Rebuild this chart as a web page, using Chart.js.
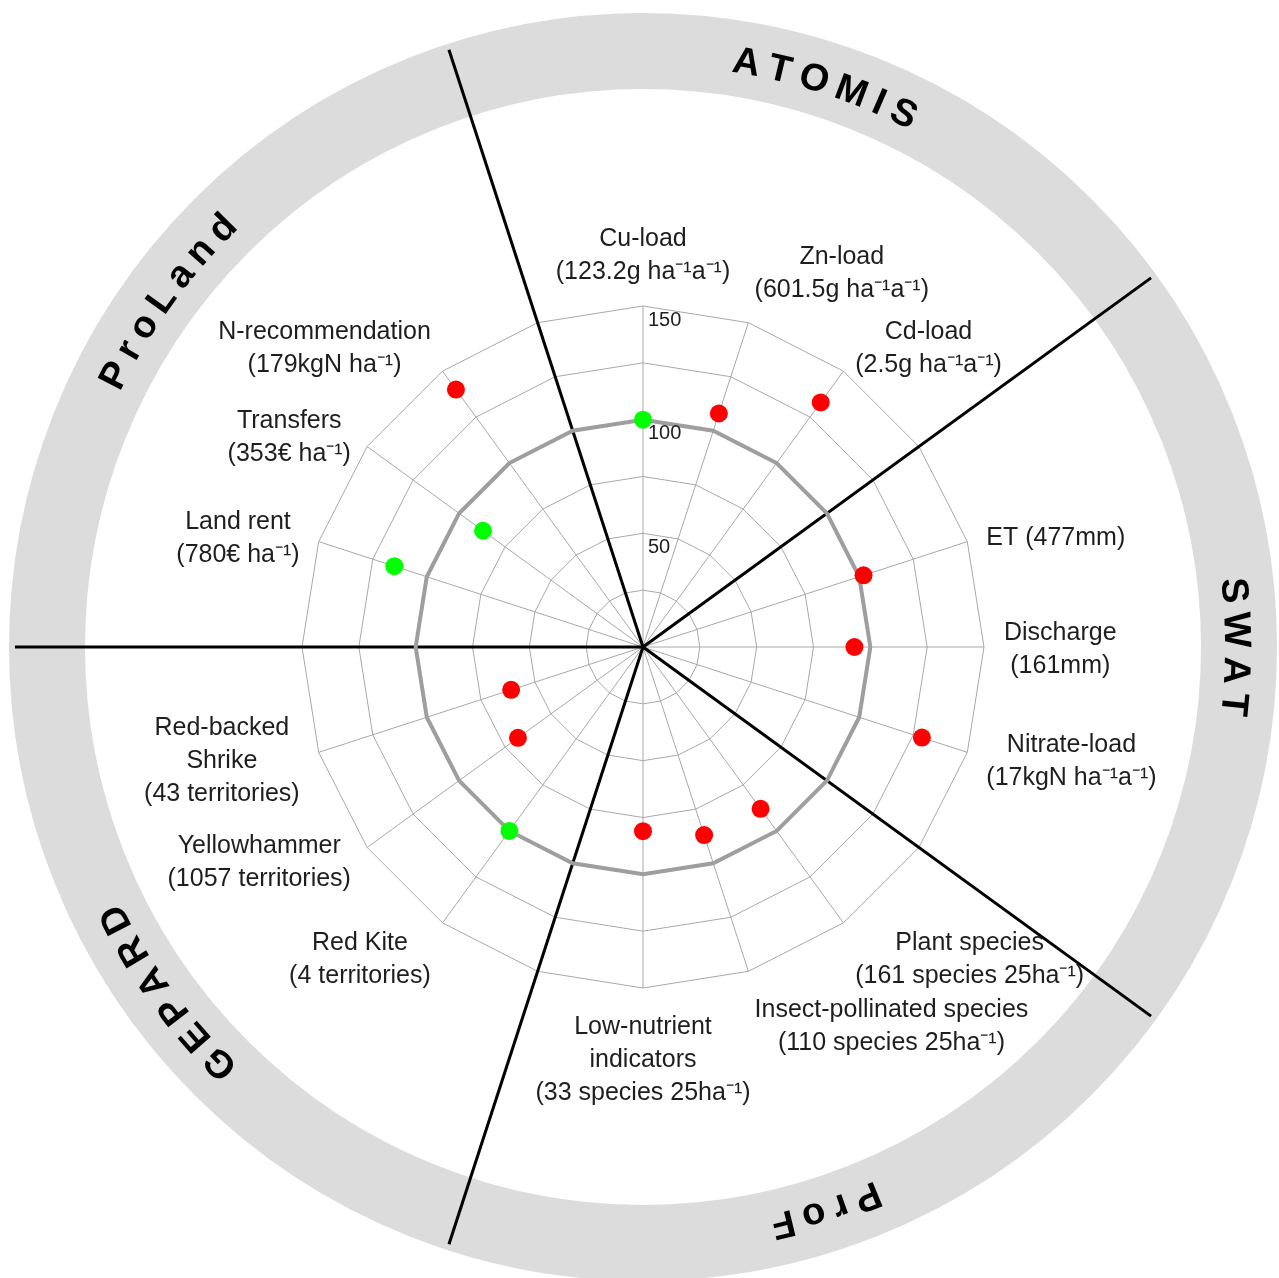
<!DOCTYPE html>
<html>
<head>
<meta charset="utf-8">
<script src="https://cdn.jsdelivr.net/npm/chart.js@4.4.0/dist/chart.umd.min.js"></script>
<style>
  html, body { margin: 0; padding: 0; background: #ffffff; }
  #wrap { width: 1279px; height: 1278px; position: relative; }
</style>
</head>
<body>
<div id="wrap"><canvas id="chart"></canvas></div>
<script>
//spoke labels, one per spoke clockwise from the top (empty spokes hold the black separators)
let categories = [
    ['Cu-load', '(123.2g ha\u207B\u00B9a\u207B\u00B9)'],
    ['Zn-load', '(601.5g ha\u207B\u00B9a\u207B\u00B9)'],
    ['Cd-load', '(2.5g ha\u207B\u00B9a\u207B\u00B9)'],
    '',
    ['ET (477mm)'],
    ['Discharge', '(161mm)'],
    ['Nitrate-load', '(17kgN ha\u207B\u00B9a\u207B\u00B9)'],
    '',
    ['Plant species', '(161 species 25ha\u207B\u00B9)'],
    ['Insect-pollinated species', '(110 species 25ha\u207B\u00B9)'],
    ['Low-nutrient', 'indicators', '(33 species 25ha\u207B\u00B9)'],
    '',
    ['Red Kite', '(4 territories)'],
    ['Yellowhammer', '(1057 territories)'],
    ['Red-backed', 'Shrike', '(43 territories)'],
    '',
    ['Land rent', '(780\u20AC ha\u207B\u00B9)'],
    ['Transfers', '(353\u20AC ha\u207B\u00B9)'],
    ['N-recommendation', '(179kgN ha\u207B\u00B9)'],
    ''
]

//indicator values in % of the reference state (null on the separator spokes)
let values = [100, 108, 133, null, 102, 93, 129, null, 88, 87, 81, null, 100, 68, 61, null, 115, 87, 140, null]

//colour of each point: green = target met, red = not met
let pointColors = ['#00ff00', '#ff0000', '#ff0000', '#ff0000', '#ff0000', '#ff0000', '#ff0000', '#ff0000',
    '#ff0000', '#ff0000', '#ff0000', '#ff0000', '#00ff00', '#ff0000', '#ff0000', '#ff0000',
    '#00ff00', '#00ff00', '#ff0000', '#ff0000']

//reference line at 100 %
let referenceValues = [100, 100, 100, 100, 100, 100, 100, 100, 100, 100, 100, 100, 100, 100, 100, 100, 100, 100, 100, 100]

//tick labels written on the top spoke
let tickLabels = [50, 100, 150]

//model names round the wheel and the spokes where their sectors are centred
let models = ['ATOMIS', 'SWAT', 'ProF', 'GEPARD', 'ProLand']
let modelSpokes = [1, 5, 9, 13, 17]

//spokes that carry the black sector separators
let separatorSpokes = [3, 7, 11, 15, 19]

//draws one word letter by letter along a circle, tops facing outwards
let drawArcText = function(ctx, text, cx, cy, radius, baseRadius, centerAngle, gap) {
    let widths = text.split('').map(ch => ctx.measureText(ch).width)
    let total = widths.reduce((a, b) => a + b, 0) + gap * (text.length - 1)
    let angle = centerAngle - total / 2 / radius
    for (let k = 0; k < text.length; k++) {
        let a = angle + widths[k] / 2 / radius
        ctx.save()
        ctx.translate(cx + Math.sin(a) * baseRadius, cy - Math.cos(a) * baseRadius)
        ctx.rotate(a)
        ctx.fillText(text[k], 0, 0)
        ctx.restore()
        angle += (widths[k] + gap) / radius
    }
}

//plugin for the grey wheel, separators, tick labels and spoke labels
let wheelPlugin = {
    id: 'wheel',
    beforeDraw: function(chart) {
        let scale = chart.scales.r
        let ctx = chart.ctx
        ctx.save()
        ctx.beginPath()
        ctx.arc(scale.xCenter, scale.yCenter, 596, 0, Math.PI * 2)
        ctx.strokeStyle = '#dcdcdc'
        ctx.lineWidth = 76
        ctx.stroke()
        //model names on the wheel
        ctx.font = 'bold 38px "Liberation Sans"'
        ctx.fillStyle = '#000000'
        ctx.textAlign = 'center'
        ctx.textBaseline = 'alphabetic'
        models.forEach((name, i) => {
            drawArcText(ctx, name, scale.xCenter, scale.yCenter, 596, 582, scale.getIndexAngle(modelSpokes[i]), 9)
        })
        ctx.restore()
    },
    beforeDatasetsDraw: function(chart) {
        let scale = chart.scales.r
        let ctx = chart.ctx
        ctx.save()
        ctx.strokeStyle = '#000000'
        ctx.lineWidth = 3
        separatorSpokes.forEach(i => {
            let end = scale.getPointPosition(i, 628)
            ctx.beginPath()
            ctx.moveTo(scale.xCenter, scale.yCenter)
            ctx.lineTo(end.x, end.y)
            ctx.stroke()
        })
        ctx.restore()
    },
    afterDraw: function(chart) {
        let scale = chart.scales.r
        let ctx = chart.ctx
        ctx.save()
        ctx.fillStyle = '#1e1e1e'
        //tick labels just below each ring on the top spoke
        ctx.font = '20px "Liberation Sans"'
        ctx.textAlign = 'left'
        ctx.textBaseline = 'top'
        tickLabels.forEach(v => {
            let p = scale.getPointPositionForValue(0, v)
            ctx.fillText(String(v), p.x + 5, p.y + 4)
        })
        //spoke labels
        let lineHeight = 33
        ctx.font = '25px "Liberation Sans"'
        ctx.textAlign = 'center'
        ctx.textBaseline = 'middle'
        categories.forEach((lines, i) => {
            if (!lines.length) return
            let pos = scale.getPointPosition(i, scale.drawingArea + 20)
            let angle = scale.getIndexAngle(i)
            let sin = Math.sin(angle)
            let cos = Math.cos(angle)
            let width = Math.max(...lines.map(l => ctx.measureText(l).width))
            let height = lines.length * lineHeight
            let centerX = pos.x
            if (Math.abs(sin) > 0.01) centerX += Math.sign(sin) * width / 2
            //labels near the top sit above their spoke end, near the bottom below it
            let pull = cos > 0
                ? Math.min(1, Math.max(0, (cos - 0.75) / 0.2))
                : Math.min(1, Math.max(0, (-cos - 0.65) / 0.3))
            let centerY = pos.y - Math.sign(cos) * pull * height / 2 + 3
            lines.forEach((line, k) => {
                ctx.fillText(line, centerX, centerY - height / 2 + lineHeight * (k + 0.5))
            })
        })
        ctx.restore()
    }
}

let ctx = document.getElementById('chart').getContext('2d')

let chart = new Chart(ctx, {
    type: 'radar',
    data: {
        labels: categories,
        datasets: [
            {
                label: 'Indicators',
                data: values,
                showLine: false,
                borderWidth: 0,
                pointRadius: 9,
                pointHoverRadius: 9,
                pointBorderWidth: 0,
                pointBackgroundColor: pointColors,
                fill: false
            },
            {
                label: 'Reference',
                data: referenceValues,
                borderColor: '#9e9e9e',
                borderWidth: 4,
                pointRadius: 0,
                fill: false
            }
        ]
    },
    options: {
        responsive: true,
        maintainAspectRatio: false,
        animation: false,
        layout: { padding: { left: 302, top: 306, right: 295, bottom: 290 } },
        plugins: {
            legend: { display: false },
            tooltip: { enabled: false }
        },
        scales: {
            r: {
                min: 0,
                max: 150,
                startAngle: 0,
                ticks: { stepSize: 25, display: false },
                pointLabels: { display: false },
                grid: { color: '#a8a8a8', lineWidth: 1 },
                angleLines: { color: '#a8a8a8', lineWidth: 1 }
            }
        }
    },
    plugins: [wheelPlugin]
})
</script>
</body>
</html>
